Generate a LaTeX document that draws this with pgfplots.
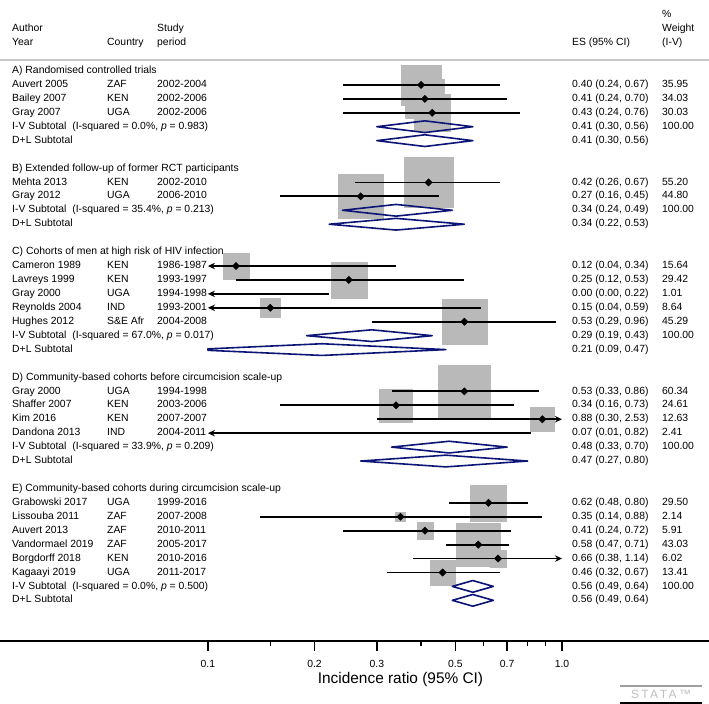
\documentclass[border=0pt]{standalone}
\usepackage{fontspec}
\setmainfont{Liberation Sans}
\usepackage{pgfplots}
\pgfplotsset{compat=1.18}
\usepackage{pgfplotstable}
\usetikzlibrary{arrows.meta}

\definecolor{boxgray}{RGB}{185,185,185}
\definecolor{dnavy}{RGB}{12,20,118}
\definecolor{sepgray}{RGB}{200,200,200}

\newcommand{\fs}{\fontsize{10.4bp}{12.5bp}\selectfont}
% row k -> y (bp from bottom)
\newcommand{\ry}[1]{633-13.93*(#1)}

% study estimates (row, estimate, % weight)
\pgfplotstableread{
row es w
1 0.40 35.95
2 0.41 34.03
3 0.43 30.03
8 0.42 55.20
9 0.27 44.80
14 0.12 15.64
15 0.25 29.42
17 0.15 8.64
18 0.53 45.29
23 0.53 60.34
24 0.34 24.61
25 0.88 12.63
31 0.62 29.50
32 0.35 2.14
33 0.41 5.91
34 0.58 43.03
35 0.66 6.02
36 0.46 13.41
}\studies

\tikzset{
  txt/.style={anchor=mid west, inner sep=0pt, font=\fs},
  ci/.style={black, line width=1.8bp},
  cil/.style={ci, {Stealth[length=7bp,width=6.5bp]}-},
  cir/.style={ci, -{Stealth[length=7bp,width=6.5bp]}},
  dmd/.style={dnavy, line width=1.6bp, line join=round, line cap=round},
}
\pgfplotsset{
  wbox/.style={only marks, mark=square*, draw=boxgray, fill=boxgray,
    mark options={draw=boxgray, fill=boxgray}, mark size=#1},
}

\newcommand{\st}[6]{%
  \node[txt] at (12,{\ry{#1}}) {#2};
  \node[txt] at (107,{\ry{#1}}) {#3};
  \node[txt] at (157,{\ry{#1}}) {#4};
  \node[txt] at (572,{\ry{#1}}) {#5};
  \node[txt] at (662,{\ry{#1}}) {#6};}
\newcommand{\lab}[2]{\node[txt] at (12,{\ry{#1}}) {#2};}
\newcommand{\esl}[3]{\node[txt] at (572,{\ry{#1}}) {#2}; \node[txt] at (662,{\ry{#1}}) {#3};}

\begin{document}
\begin{tikzpicture}[x=1bp, y=1bp]
\useasboundingbox (0,0) rectangle (709,704);

% weight boxes, half side = 3.35*sqrt(weight); own axis so they stay under the lines
\begin{axis}[at={(0bp,0bp)}, anchor=south west, width=709bp, height=704bp,
  scale only axis, hide axis, xmode=log, xmin=0.025866, xmax=2.6017,
  ymin=-5.097, ymax=45.442, y dir=reverse, clip=false]
\addplot[wbox=20.09] coordinates {(0.40,1)};
\addplot[wbox=19.54] coordinates {(0.41,2)};
\addplot[wbox=18.36] coordinates {(0.43,3)};
\addplot[wbox=24.89] coordinates {(0.42,8)};
\addplot[wbox=22.42] coordinates {(0.27,9)};
\addplot[wbox=13.25] coordinates {(0.12,14)};
\addplot[wbox=18.17] coordinates {(0.25,15)};
\addplot[wbox=9.85] coordinates {(0.15,17)};
\addplot[wbox=22.54] coordinates {(0.53,18)};
\addplot[wbox=26.02] coordinates {(0.53,23)};
\addplot[wbox=16.62] coordinates {(0.34,24)};
\addplot[wbox=11.91] coordinates {(0.88,25)};
\addplot[wbox=18.19] coordinates {(0.62,31)};
\addplot[wbox=4.90] coordinates {(0.35,32)};
\addplot[wbox=8.14] coordinates {(0.41,33)};
\addplot[wbox=21.98] coordinates {(0.58,34)};
\addplot[wbox=8.22] coordinates {(0.66,35)};
\addplot[wbox=12.27] coordinates {(0.46,36)};
\end{axis}

\begin{axis}[at={(0bp,0bp)}, anchor=south west, width=709bp, height=704bp,
  scale only axis, hide axis, xmode=log, xmin=0.025866, xmax=2.6017,
  ymin=-5.097, ymax=45.442, y dir=reverse, clip=false]
% confidence intervals (clipped to 0.1--1.0 with arrows)
\addplot[ci] coordinates {(0.24,1) (0.67,1)};
\addplot[ci] coordinates {(0.24,2) (0.70,2)};
\addplot[ci] coordinates {(0.24,3) (0.76,3)};
\addplot[ci] coordinates {(0.26,8) (0.67,8)};
\addplot[ci] coordinates {(0.16,9) (0.45,9)};
\addplot[cil] coordinates {(0.1,14) (0.34,14)};
\addplot[ci] coordinates {(0.12,15) (0.53,15)};
\addplot[cil] coordinates {(0.1,16) (0.22,16)};
\addplot[cil] coordinates {(0.1,17) (0.59,17)};
\addplot[ci] coordinates {(0.29,18) (0.96,18)};
\addplot[ci] coordinates {(0.33,23) (0.86,23)};
\addplot[ci] coordinates {(0.16,24) (0.73,24)};
\addplot[cir] coordinates {(0.30,25) (1.0,25)};
\addplot[cil] coordinates {(0.1,26) (0.82,26)};
\addplot[ci] coordinates {(0.48,31) (0.80,31)};
\addplot[ci] coordinates {(0.14,32) (0.88,32)};
\addplot[ci] coordinates {(0.24,33) (0.72,33)};
\addplot[ci] coordinates {(0.47,34) (0.71,34)};
\addplot[cir] coordinates {(0.38,35) (1.0,35)};
\addplot[ci] coordinates {(0.32,36) (0.67,36)};

% subtotal diamonds
\addplot[dmd] coordinates {(0.41,3.58) (0.56,4) (0.41,4.42) (0.30,4) (0.41,3.58)};
\addplot[dmd] coordinates {(0.41,4.58) (0.56,5) (0.41,5.42) (0.30,5) (0.41,4.58)};
\addplot[dmd] coordinates {(0.34,9.58) (0.49,10) (0.34,10.42) (0.24,10) (0.34,9.58)};
\addplot[dmd] coordinates {(0.34,10.58) (0.53,11) (0.34,11.42) (0.22,11) (0.34,10.58)};
\addplot[dmd] coordinates {(0.29,18.58) (0.43,19) (0.29,19.42) (0.19,19) (0.29,18.58)};
\addplot[dmd] coordinates {(0.21,19.58) (0.47,20) (0.21,20.42) (0.1,20.052) (0.1,19.948) (0.21,19.58)};
\addplot[dmd] coordinates {(0.48,26.58) (0.70,27) (0.48,27.42) (0.33,27) (0.48,26.58)};
\addplot[dmd] coordinates {(0.47,27.58) (0.80,28) (0.47,28.42) (0.27,28) (0.47,27.58)};
\addplot[dmd] coordinates {(0.56,36.58) (0.64,37) (0.56,37.42) (0.49,37) (0.56,36.58)};
\addplot[dmd] coordinates {(0.56,37.58) (0.64,38) (0.56,38.42) (0.49,38) (0.56,37.58)};

% point estimates
\addplot[only marks, mark=square*, mark size=2.6, mark options={rotate=45}, black]
  table[x=es, y=row] {\studies};
\end{axis}

% x axis
\begin{axis}[at={(0bp,63bp)}, anchor=south west, width=709bp, height=20bp,
  scale only axis, xmode=log, xmin=0.025866, xmax=2.6017, ymin=0, ymax=1,
  axis x line*=bottom, axis y line=none, x axis line style={-},
  xtick={0.1,0.2,0.3,0.5,0.7,1}, xticklabels={0.1,0.2,0.3,0.5,0.7,1.0},
  minor xtick={0.15,0.4,0.6,0.8,0.9},
  tick align=outside, major tick length=10bp, minor tick length=5bp,
  every tick/.style={black, line width=1.3bp},
  axis line style={black, line width=1.3bp},
  xticklabel style={font=\fs, yshift=-6bp}]
\end{axis}
\node[anchor=center, inner sep=0pt, font=\fontsize{15.4bp}{18bp}\selectfont] at (400.5,24) {Incidence ratio (95\% CI)};

% header
\node[txt] at (12,{\ry{-3}}) {Author};
\node[txt] at (12,{\ry{-2}}) {Year};
\node[txt] at (107,{\ry{-2}}) {Country};
\node[txt] at (157,{\ry{-3}}) {Study};
\node[txt] at (157,{\ry{-2}}) {period};
\node[txt] at (572,{\ry{-2}}) {ES (95\% CI)};
\node[txt] at (662,{\ry{-4}}) {\%};
\node[txt] at (662,{\ry{-3}}) {Weight};
\node[txt] at (662,{\ry{-2}}) {(I-V)};
\draw[sepgray, line width=1.2bp] (0,644) -- (709,644);

% A
\lab{0}{A) Randomised controlled trials}
\st{1}{Auvert 2005}{ZAF}{2002-2004}{0.40 (0.24, 0.67)}{35.95}
\st{2}{Bailey 2007}{KEN}{2002-2006}{0.41 (0.24, 0.70)}{34.03}
\st{3}{Gray 2007}{UGA}{2002-2006}{0.43 (0.24, 0.76)}{30.03}
\lab{4}{I-V Subtotal\ \ (I-squared = 0.0\%, \textit{p} = 0.983)}
\esl{4}{0.41 (0.30, 0.56)}{100.00}
\lab{5}{D+L Subtotal}
\esl{5}{0.41 (0.30, 0.56)}{}
% B
\lab{7}{B) Extended follow-up of former RCT participants}
\st{8}{Mehta 2013}{KEN}{2002-2010}{0.42 (0.26, 0.67)}{55.20}
\st{9}{Gray 2012}{UGA}{2006-2010}{0.27 (0.16, 0.45)}{44.80}
\lab{10}{I-V Subtotal\ \ (I-squared = 35.4\%, \textit{p} = 0.213)}
\esl{10}{0.34 (0.24, 0.49)}{100.00}
\lab{11}{D+L Subtotal}
\esl{11}{0.34 (0.22, 0.53)}{}
% C
\lab{13}{C) Cohorts of men at high risk of HIV infection}
\st{14}{Cameron 1989}{KEN}{1986-1987}{0.12 (0.04, 0.34)}{15.64}
\st{15}{Lavreys 1999}{KEN}{1993-1997}{0.25 (0.12, 0.53)}{29.42}
\st{16}{Gray 2000}{UGA}{1994-1998}{0.00 (0.00, 0.22)}{1.01}
\st{17}{Reynolds 2004}{IND}{1993-2001}{0.15 (0.04, 0.59)}{8.64}
\st{18}{Hughes 2012}{S\&E Afr}{2004-2008}{0.53 (0.29, 0.96)}{45.29}
\lab{19}{I-V Subtotal\ \ (I-squared = 67.0\%, \textit{p} = 0.017)}
\esl{19}{0.29 (0.19, 0.43)}{100.00}
\lab{20}{D+L Subtotal}
\esl{20}{0.21 (0.09, 0.47)}{}
% D
\lab{22}{D) Community-based cohorts before circumcision scale-up}
\st{23}{Gray 2000}{UGA}{1994-1998}{0.53 (0.33, 0.86)}{60.34}
\st{24}{Shaffer 2007}{KEN}{2003-2006}{0.34 (0.16, 0.73)}{24.61}
\st{25}{Kim 2016}{KEN}{2007-2007}{0.88 (0.30, 2.53)}{12.63}
\st{26}{Dandona 2013}{IND}{2004-2011}{0.07 (0.01, 0.82)}{2.41}
\lab{27}{I-V Subtotal\ \ (I-squared = 33.9\%, \textit{p} = 0.209)}
\esl{27}{0.48 (0.33, 0.70)}{100.00}
\lab{28}{D+L Subtotal}
\esl{28}{0.47 (0.27, 0.80)}{}
% E
\lab{30}{E) Community-based cohorts during circumcision scale-up}
\st{31}{Grabowski 2017}{UGA}{1999-2016}{0.62 (0.48, 0.80)}{29.50}
\st{32}{Lissouba 2011}{ZAF}{2007-2008}{0.35 (0.14, 0.88)}{2.14}
\st{33}{Auvert 2013}{ZAF}{2010-2011}{0.41 (0.24, 0.72)}{5.91}
\st{34}{Vandormael 2019}{ZAF}{2005-2017}{0.58 (0.47, 0.71)}{43.03}
\st{35}{Borgdorff 2018}{KEN}{2010-2016}{0.66 (0.38, 1.14)}{6.02}
\st{36}{Kagaayi 2019}{UGA}{2011-2017}{0.46 (0.32, 0.67)}{13.41}
\lab{37}{I-V Subtotal\ \ (I-squared = 0.0\%, \textit{p} = 0.500)}
\esl{37}{0.56 (0.49, 0.64)}{100.00}
\lab{38}{D+L Subtotal}
\esl{38}{0.56 (0.49, 0.64)}{}

% Stata mark
\draw[gray!75, line width=1.4bp] (620,18) -- (702,18);
\node[anchor=center, inner sep=0pt, text=gray!50, font=\fontsize{12bp}{12bp}\selectfont] at (661,9.5) {\addfontfeatures{LetterSpace=20}STATA™};
\draw[black, line width=1.2bp] (620,1) -- (702,1);
\end{tikzpicture}
\end{document}
